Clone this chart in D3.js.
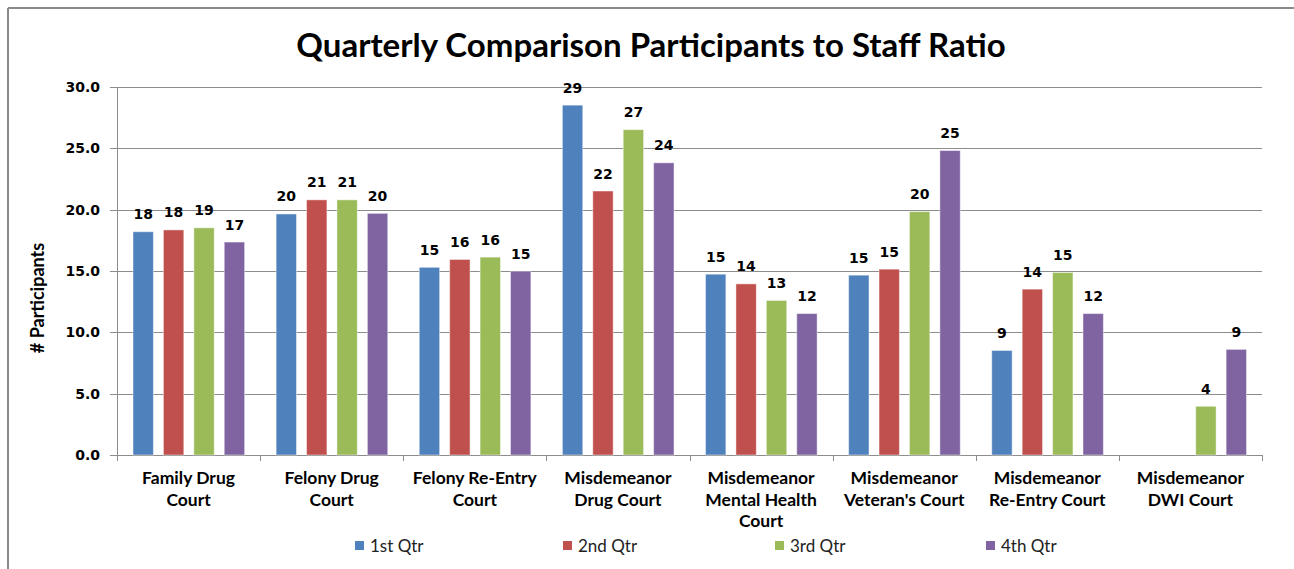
<!DOCTYPE html>
<html>
<head>
<meta charset="utf-8">
<script src="https://cdn.jsdelivr.net/npm/d3@7"></script>
<style>
  body { margin: 0; background: #fff; }
  svg { display: block; }
</style>
</head>
<body>
<div id="chart"></div>
<script>
// court categories (x axis), two-line labels
const courts = [
    ["Family Drug", "Court"],
    ["Felony Drug", "Court"],
    ["Felony Re-Entry", "Court"],
    ["Misdemeanor", "Drug Court"],
    ["Misdemeanor", "Mental Health", "Court"],
    ["Misdemeanor", "Veteran's Court"],
    ["Misdemeanor", "Re-Entry Court"],
    ["Misdemeanor", "DWI Court"]
];
const quarters = ["1st Qtr", "2nd Qtr", "3rd Qtr", "4th Qtr"];
const colors = ["#4F81BD", "#C0504D", "#9BBB59", "#8064A2"];

// participants to staff ratio per quarter
const q1 = [18.2, 19.65, 15.3, 28.52, 14.74, 14.66, 8.52, null];
const q2 = [18.35, 20.8, 15.94, 21.52, 13.95, 15.15, 13.52, null];
const q3 = [18.52, 20.8, 16.13, 26.52, 12.6, 19.84, 14.88, 3.97];
const q4 = [17.36, 19.7, 14.99, 23.82, 11.53, 24.82, 11.53, 8.61];

const yTicks = [0, 5, 10, 15, 20, 25, 30];

const W = 1294, H = 569;
const margin = {top: 87, right: 32, bottom: 114, left: 117};
const series = [q1, q2, q3, q4];

let svg = d3.select("#chart")
    .append("svg")
    .attr("width", W)
    .attr("height", H);

// outer frame (top + left only visible)
svg.append("line").attr("x1", 8).attr("x2", W).attr("y1", 8).attr("y2", 8)
    .attr("stroke", "#8a8a8a").attr("stroke-width", 2);
svg.append("line").attr("x1", 8).attr("x2", 8).attr("y1", 8).attr("y2", H)
    .attr("stroke", "#8a8a8a").attr("stroke-width", 2);

// title
svg.append("text")
    .attr("x", 651)
    .attr("y", 57)
    .attr("text-anchor", "middle")
    .style("font-family", "Lato, 'Open Sans', sans-serif")
    .style("font-weight", "bold")
    .style("font-size", "33px")
    .text("Quarterly Comparison Participants to Staff Ratio");

let x0 = d3.scaleBand()
    .domain(d3.range(courts.length))
    .range([margin.left, W - margin.right])
    .padding(0);

let x1 = d3.scaleBand()
    .domain(d3.range(quarters.length))
    .range([16, x0.bandwidth() - 15.5])
    .paddingInner(0.33);

let y = d3.scaleLinear()
    .domain([0, 30])
    .range([H - margin.bottom, margin.top]);

// gridlines and y ticks
svg.append("g")
    .selectAll("line")
    .data(yTicks)
    .enter()
    .append("line")
    .attr("x1", margin.left - 7)
    .attr("x2", W - margin.right)
    .attr("y1", d => Math.round(y(d)) + 0.5)
    .attr("y2", d => Math.round(y(d)) + 0.5)
    .attr("stroke", "#8c8c8c")
    .attr("stroke-width", 1);

svg.append("g")
    .selectAll("text")
    .data(yTicks)
    .enter()
    .append("text")
    .attr("x", 100)
    .attr("y", d => y(d) + 5)
    .attr("text-anchor", "end")
    .style("font-family", "'DejaVu Sans', sans-serif")
    .style("font-weight", "bold")
    .style("font-size", "14px")
    .text(d => d.toFixed(1));

// y axis line
svg.append("line")
    .attr("x1", margin.left + 0.5).attr("x2", margin.left + 0.5)
    .attr("y1", y(30)).attr("y2", y(0))
    .attr("stroke", "#8c8c8c");

// x axis ticks at group boundaries
svg.append("g")
    .selectAll("line")
    .data(d3.range(courts.length + 1))
    .enter()
    .append("line")
    .attr("x1", d => Math.round(margin.left + d * x0.step()) + 0.5)
    .attr("x2", d => Math.round(margin.left + d * x0.step()) + 0.5)
    .attr("y1", y(0))
    .attr("y2", y(0) + 6)
    .attr("stroke", "#8c8c8c");

// y axis title
svg.append("text")
    .attr("transform", "translate(44,298) rotate(-90)")
    .attr("text-anchor", "middle")
    .style("font-family", "Lato, sans-serif")
    .style("font-weight", "bold")
    .style("font-size", "18px")
    .text("# Participants");

// bars
let groups = svg.append("g")
    .selectAll("g")
    .data(courts)
    .enter()
    .append("g")
    .attr("transform", (d, i) => "translate(" + x0(i) + ",0)");

let cells = groups.selectAll("g")
    .data((d, i) => series.map((s, k) => ({k: k, v: s[i]})).filter(e => e.v !== null))
    .enter()
    .append("g");

cells.append("rect")
    .attr("x", d => x1(d.k))
    .attr("y", d => y(d.v))
    .attr("width", x1.bandwidth())
    .attr("height", d => y(0) - y(d.v))
    .attr("fill", d => colors[d.k])
    .attr("stroke", "rgba(255,255,255,0.45)")
    .attr("stroke-width", 1);

cells.append("text")
    .attr("x", d => x1(d.k) + x1.bandwidth() / 2)
    .attr("y", d => y(d.v) - 12.5)
    .attr("text-anchor", "middle")
    .style("font-family", "'DejaVu Sans', sans-serif")
    .style("font-weight", "bold")
    .style("font-size", "14px")
    .text(d => Math.round(d.v));

// category labels
groups.append("text")
    .attr("x", x0.bandwidth() / 2)
    .attr("y", 484)
    .attr("text-anchor", "middle")
    .style("font-family", "Lato, sans-serif")
    .style("font-weight", "bold")
    .style("font-size", "17.5px")
    .selectAll("tspan")
    .data(d => d)
    .enter()
    .append("tspan")
    .attr("x", x0.bandwidth() / 2)
    .attr("dy", (d, i) => i === 0 ? 0 : 21.5)
    .text(d => d);

// legend
let legendX = [355, 563, 775, 986];
let legend = svg.append("g")
    .selectAll("g")
    .data(quarters)
    .enter()
    .append("g")
    .attr("transform", (d, i) => "translate(" + legendX[i] + ",546)");

legend.append("rect")
    .attr("x", 0).attr("y", -5)
    .attr("width", 9).attr("height", 9)
    .attr("fill", (d, i) => colors[i]);

legend.append("text")
    .attr("x", 15)
    .attr("y", 5.5)
    .style("font-family", "Lato, sans-serif")
    .style("font-size", "17px")
    .style("fill", "#222")
    .text(d => d);
</script>
</body>
</html>
